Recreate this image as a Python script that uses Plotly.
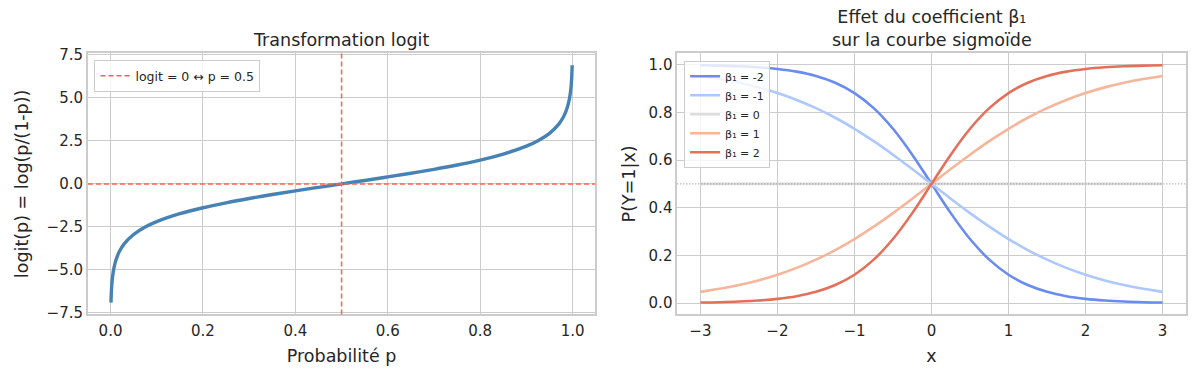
import plotly.graph_objects as go

# ---- Left panel data: logit transformation ----
p_vals = [0.001, 0.002, 0.003, 0.004, 0.005, 0.007, 0.01, 0.015, 0.02, 0.03, 0.05, 0.075,
          0.1, 0.15, 0.2, 0.25, 0.3, 0.35, 0.4, 0.45, 0.5, 0.55, 0.6, 0.65, 0.7, 0.75,
          0.8, 0.85, 0.9, 0.925, 0.95, 0.97, 0.98, 0.985, 0.99, 0.993, 0.995, 0.996,
          0.997, 0.998, 0.999]
logit_vals = [-6.907, -6.213, -5.806, -5.517, -5.293, -4.955, -4.595, -4.184, -3.892, -3.476,
              -2.944, -2.512, -2.197, -1.735, -1.386, -1.099, -0.847, -0.619, -0.405, -0.201,
              0.0, 0.201, 0.405, 0.619, 0.847, 1.099, 1.386, 1.735, 2.197, 2.512, 2.944,
              3.476, 3.892, 4.184, 4.595, 4.955, 5.293, 5.517, 5.806, 6.213, 6.907]

# ---- Right panel data: sigmoid curves for several beta1 ----
x_vals = [-3.0, -2.75, -2.5, -2.25, -2.0, -1.75, -1.5, -1.25, -1.0, -0.75, -0.5, -0.25, 0.0,
          0.25, 0.5, 0.75, 1.0, 1.25, 1.5, 1.75, 2.0, 2.25, 2.5, 2.75, 3.0]
beta_labels = ["β₁ = -2", "β₁ = -1", "β₁ = 0", "β₁ = 1", "β₁ = 2"]
prob_beta_m2 = [0.9975, 0.9959, 0.9933, 0.9890, 0.9820, 0.9707, 0.9526, 0.9241, 0.8808, 0.8176,
                0.7311, 0.6225, 0.5, 0.3775, 0.2689, 0.1824, 0.1192, 0.0759, 0.0474, 0.0293,
                0.0180, 0.0110, 0.0067, 0.0041, 0.0025]
prob_beta_m1 = [0.9526, 0.9399, 0.9241, 0.9047, 0.8808, 0.8520, 0.8176, 0.7773, 0.7311, 0.6792,
                0.6225, 0.5622, 0.5, 0.4378, 0.3775, 0.3208, 0.2689, 0.2227, 0.1824, 0.1480,
                0.1192, 0.0953, 0.0759, 0.0601, 0.0474]
prob_beta_0 = [0.5] * 25
prob_beta_1 = [0.0474, 0.0601, 0.0759, 0.0953, 0.1192, 0.1480, 0.1824, 0.2227, 0.2689, 0.3208,
               0.3775, 0.4378, 0.5, 0.5622, 0.6225, 0.6792, 0.7311, 0.7773, 0.8176, 0.8520,
               0.8808, 0.9047, 0.9241, 0.9399, 0.9526]
prob_beta_2 = [0.0025, 0.0041, 0.0067, 0.0110, 0.0180, 0.0293, 0.0474, 0.0759, 0.1192, 0.1824,
               0.2689, 0.3775, 0.5, 0.6225, 0.7311, 0.8176, 0.8808, 0.9241, 0.9526, 0.9707,
               0.9820, 0.9890, 0.9933, 0.9959, 0.9975]
beta_series = [prob_beta_m2, prob_beta_m1, prob_beta_0, prob_beta_1, prob_beta_2]
beta_colors = ["#6a8bef", "#adc8fc", "#dcdcdc", "#f5b69b", "#e4705a"]

left_xticks = [0.0, 0.2, 0.4, 0.6, 0.8, 1.0]
left_yticks = [-7.5, -5.0, -2.5, 0.0, 2.5, 5.0, 7.5]
right_xticks = [-3, -2, -1, 0, 1, 2, 3]
right_yticks = [0.0, 0.2, 0.4, 0.6, 0.8, 1.0]

FONT = "DejaVu Sans"
TXT = "#262626"
GRID = "#cccccc"

fig = go.Figure()

fig.add_trace(go.Scatter(
    x=p_vals, y=logit_vals, mode="lines", line=dict(color="#4682b4", width=3.4, shape="spline"),
    showlegend=False, xaxis="x", yaxis="y", hoverinfo="skip"))

for lbl, ys, col in zip(beta_labels, beta_series, beta_colors):
    fig.add_trace(go.Scatter(
        x=x_vals, y=ys, mode="lines", name=lbl,
        line=dict(color=col, width=2.6, shape="spline"),
        xaxis="x2", yaxis="y2", legend="legend2"))

# reference lines
fig.add_shape(type="line", xref="x domain", x0=0, x1=1, yref="y", y0=0, y1=0,
              line=dict(color="#ff6347", width=1.5, dash="5px,3px"),
              showlegend=True, name="logit = 0 ↔ p = 0.5", legend="legend")
fig.add_shape(type="line", xref="x", x0=0.5, x1=0.5, yref="y domain", y0=0, y1=1,
              line=dict(color="#ff6347", width=1.5, dash="5px,3px"))
fig.add_shape(type="line", xref="x2 domain", x0=0, x1=1, yref="y2", y0=0.5, y1=0.5,
              line=dict(color="#808080", width=1, dash="1px,2px"))

axis_common = dict(showgrid=True, gridcolor=GRID, gridwidth=1, zeroline=False,
                   showline=True, linecolor=GRID, linewidth=1.7, mirror=True,
                   ticks="", tickfont=dict(family=FONT, size=15, color=TXT),
                   automargin=False)

fig.update_layout(
    width=1196, height=380,
    margin=dict(l=0, r=0, t=0, b=0),
    paper_bgcolor="white", plot_bgcolor="white",
    font=dict(family=FONT, color=TXT),
    xaxis=dict(domain=[0.0735, 0.4977], range=[-0.0489, 1.0489], tickvals=left_xticks,
               tickformat=".1f", anchor="y", ticklabelstandoff=2,
               title=dict(text="Probabilité p", font=dict(size=17.5, family=FONT, color=TXT), standoff=10),
               **axis_common),
    yaxis=dict(domain=[0.1724, 0.8597], range=[-7.598, 7.598], tickvals=left_yticks,
               tickformat=".1f", anchor="x",
               title=dict(text="logit(p) = log(p/(1-p))", font=dict(size=17.5, family=FONT, color=TXT), standoff=13),
               **axis_common),
    xaxis2=dict(domain=[0.5663, 0.9914], range=[-3.3, 3.3], tickvals=right_xticks,
                anchor="y2", ticklabelstandoff=2,
                title=dict(text="x", font=dict(size=17.5, family=FONT, color=TXT), standoff=10),
                **axis_common),
    yaxis2=dict(domain=[0.1724, 0.8597], range=[-0.0475, 1.0475], tickvals=right_yticks,
                tickformat=".1f", anchor="x2",
                title=dict(text="P(Y=1|x)", font=dict(size=17.5, family=FONT, color=TXT), standoff=8),
                **axis_common),
    legend=dict(x=0.079, y=0.842, xanchor="left", yanchor="top",
                bgcolor="rgba(255,255,255,0.8)", bordercolor=GRID, borderwidth=1,
                font=dict(family=FONT, size=12.5, color=TXT)),
    legend2=dict(x=0.572, y=0.840, xanchor="left", yanchor="top",
                 bgcolor="rgba(255,255,255,0.8)", bordercolor=GRID, borderwidth=1,
                 font=dict(family=FONT, size=11, color=TXT), tracegroupgap=0),
    annotations=[
        dict(text="Transformation logit", x=0.285, y=0.862, xref="paper", yref="paper",
             xanchor="center", yanchor="bottom", showarrow=False,
             font=dict(family=FONT, size=17.5, color=TXT)),
        dict(text="Effet du coefficient β₁<br>sur la courbe sigmoïde", x=0.7789, y=0.862,
             xref="paper", yref="paper", xanchor="center", yanchor="bottom", showarrow=False,
             font=dict(family=FONT, size=17.5, color=TXT)),
    ],
)

fig.write_html("out.html", post_script="document.body.style.margin='0';",
               config={"displayModeBar": False})
